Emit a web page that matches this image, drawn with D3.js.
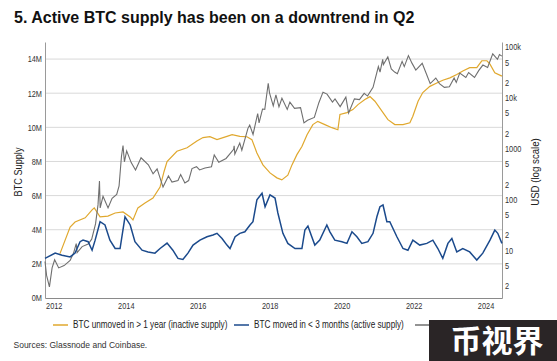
<!DOCTYPE html>
<html>
<head>
<meta charset="utf-8">
<script src="https://cdn.jsdelivr.net/npm/d3@7"></script>
<style>
  body { margin: 0; background: #fff; }
  svg { display: block; }
</style>
</head>
<body>
<svg id="chart" width="557" height="361"></svg>
<script>
// values
var inactiveSupply = [
  ["2012-03-04", 2.6], ["2012-06-15", 4.16], ["2012-08-04", 4.45], ["2012-11-15", 4.7],
  ["2013-01-24", 5.16], ["2013-02-15", 5.28], ["2013-04-15", 4.75], ["2013-07-04", 4.8],
  ["2013-09-15", 4.98], ["2013-12-04", 5.04], ["2014-02-15", 4.75], ["2014-03-15", 4.57],
  ["2014-05-04", 5.28], ["2014-07-15", 5.57], ["2014-10-04", 5.86], ["2014-12-15", 6.5],
  ["2015-01-24", 7.4], ["2015-02-24", 8.0], ["2015-06-04", 8.6], ["2015-09-15", 8.8],
  ["2015-12-24", 9.2], ["2016-02-24", 9.4], ["2016-05-04", 9.45], ["2016-07-15", 9.28],
  ["2016-10-24", 9.47], ["2016-12-15", 9.57], ["2017-03-04", 9.47], ["2017-05-15", 9.45],
  ["2017-07-04", 9.28], ["2017-08-24", 8.5], ["2017-10-24", 7.8], ["2018-01-04", 7.33],
  ["2018-03-15", 7.04], ["2018-05-04", 6.92], ["2018-07-04", 7.2], ["2018-08-15", 7.8],
  ["2018-10-04", 8.4], ["2018-11-24", 8.88], ["2019-01-15", 9.57], ["2019-03-15", 10.16],
  ["2019-05-04", 10.35], ["2019-07-15", 10.16], ["2019-09-24", 9.98], ["2019-11-24", 9.86],
  ["2019-12-15", 10.75], ["2020-02-24", 10.86], ["2020-04-24", 11.04], ["2020-06-15", 11.33],
  ["2020-08-24", 11.63], ["2020-10-15", 11.8], ["2020-12-04", 11.53], ["2021-02-15", 10.94],
  ["2021-04-15", 10.45], ["2021-06-24", 10.16], ["2021-09-15", 10.16], ["2021-11-24", 10.27],
  ["2021-12-24", 10.65], ["2022-02-15", 11.53], ["2022-04-04", 12.04], ["2022-06-15", 12.4],
  ["2022-08-24", 12.6], ["2022-10-24", 12.76], ["2023-01-04", 12.9], ["2023-03-15", 13.1],
  ["2023-05-15", 13.3], ["2023-07-24", 13.5], ["2023-10-04", 13.5], ["2023-11-24", 13.9],
  ["2024-01-15", 13.9], ["2024-02-15", 13.7], ["2024-04-04", 13.2], ["2024-06-15", 13.0]
];

var activeSupply = [
  ["2011-10-04", 2.32], ["2012-01-15", 2.63], ["2012-03-25", 2.51], ["2012-06-15", 2.41],
  ["2012-08-04", 2.63], ["2012-09-24", 3.3], ["2012-10-24", 3.39], ["2012-12-15", 3.3],
  ["2013-01-24", 2.8], ["2013-02-24", 3.39], ["2013-04-15", 4.47], ["2013-06-04", 4.28],
  ["2013-07-24", 3.39], ["2013-09-15", 2.9], ["2013-11-04", 2.9], ["2013-12-24", 4.76],
  ["2014-02-15", 4.28], ["2014-04-04", 3.3], ["2014-06-15", 2.8], ["2014-08-15", 2.7],
  ["2014-10-24", 2.63], ["2014-12-15", 2.9], ["2015-02-24", 3.22], ["2015-04-24", 2.8],
  ["2015-06-15", 2.32], ["2015-08-04", 2.26], ["2015-09-24", 2.63], ["2015-11-15", 3.1],
  ["2016-01-24", 3.39], ["2016-04-04", 3.59], ["2016-06-04", 3.69], ["2016-07-15", 3.79],
  ["2016-09-04", 3.49], ["2016-10-24", 3.1], ["2016-11-24", 2.9], ["2017-01-15", 3.59],
  ["2017-03-04", 3.79], ["2017-04-24", 3.88], ["2017-06-15", 4.28], ["2017-07-15", 4.47],
  ["2017-08-24", 5.75], ["2017-10-15", 6.14], ["2017-11-15", 5.35], ["2018-01-04", 6.04],
  ["2018-02-24", 5.86], ["2018-03-25", 4.98], ["2018-05-15", 3.79], ["2018-07-04", 3.2],
  ["2018-09-15", 2.9], ["2018-11-24", 2.9], ["2018-12-24", 3.98], ["2019-01-24", 4.22],
  ["2019-03-04", 3.59], ["2019-04-04", 3.1], ["2019-05-24", 3.39], ["2019-08-04", 4.28],
  ["2019-09-04", 3.88], ["2019-10-24", 3.39], ["2020-01-04", 3.3], ["2020-02-24", 3.2],
  ["2020-04-15", 3.88], ["2020-06-04", 3.59], ["2020-07-24", 3.2], ["2020-09-24", 3.3],
  ["2020-11-15", 3.79], ["2020-12-24", 4.76], ["2021-01-24", 5.35], ["2021-02-24", 5.45],
  ["2021-04-04", 4.47], ["2021-05-04", 4.47], ["2021-07-15", 3.59], ["2021-09-15", 2.9],
  ["2021-11-04", 2.8], ["2021-12-24", 3.39], ["2022-03-04", 3.1], ["2022-05-15", 3.2],
  ["2022-07-15", 3.39], ["2022-09-04", 2.9], ["2022-10-24", 2.32], ["2022-12-15", 3.2],
  ["2023-01-24", 3.49], ["2023-03-15", 2.7], ["2023-05-15", 2.9], ["2023-07-24", 2.7],
  ["2023-10-04", 2.22], ["2023-12-04", 2.63], ["2024-02-15", 3.39], ["2024-04-04", 3.98],
  ["2024-05-04", 3.79], ["2024-06-15", 3.2]
];

var btcPrice = [
  ["2011-10-04", 6], ["2011-10-20", 3.2], ["2011-11-18", 1.9], ["2011-12-15", 4.5],
  ["2012-01-10", 6.5], ["2012-02-20", 4.5], ["2012-04-15", 5.0], ["2012-06-15", 6.3],
  ["2012-07-20", 8.8], ["2012-08-16", 13.5], ["2012-08-25", 9.0], ["2012-10-15", 11.8],
  ["2012-12-15", 13.3], ["2013-01-20", 16.5], ["2013-02-28", 33], ["2013-03-25", 78],
  ["2013-04-09", 230], ["2013-04-16", 68], ["2013-05-15", 115], ["2013-07-05", 68],
  ["2013-08-15", 105], ["2013-10-01", 125], ["2013-10-25", 185], ["2013-11-18", 700],
  ["2013-12-04", 1150], ["2013-12-18", 550], ["2014-01-10", 900], ["2014-02-25", 530],
  ["2014-04-10", 380], ["2014-06-05", 660], ["2014-08-18", 480], ["2014-10-05", 320],
  ["2014-11-15", 400], ["2015-01-14", 175], ["2015-03-10", 290], ["2015-04-15", 220],
  ["2015-06-15", 235], ["2015-07-12", 310], ["2015-08-24", 210], ["2015-10-01", 235],
  ["2015-11-04", 405], ["2015-12-20", 440], ["2016-01-20", 380], ["2016-03-15", 415],
  ["2016-05-20", 440], ["2016-06-17", 750], ["2016-08-02", 540], ["2016-10-15", 640],
  ["2016-12-31", 970], ["2017-01-05", 1130], ["2017-01-12", 780], ["2017-03-03", 1280],
  ["2017-03-24", 930], ["2017-05-25", 2500], ["2017-06-12", 2900], ["2017-07-16", 1900],
  ["2017-09-01", 4900], ["2017-09-15", 3200], ["2017-10-20", 6000], ["2017-11-12", 5900],
  ["2017-12-17", 19300], ["2017-12-30", 12500], ["2018-02-06", 6900], ["2018-03-05", 11400],
  ["2018-04-05", 6600], ["2018-05-05", 9800], ["2018-06-28", 5900], ["2018-07-25", 8200],
  ["2018-09-10", 6200], ["2018-11-10", 6400], ["2018-12-15", 3200], ["2019-01-20", 3600],
  ["2019-03-30", 4100], ["2019-05-15", 8000], ["2019-06-26", 12900], ["2019-08-06", 11800],
  ["2019-09-30", 8200], ["2019-10-26", 9500], ["2019-12-17", 6700], ["2020-02-13", 10300],
  ["2020-03-12", 5000], ["2020-05-10", 9500], ["2020-06-30", 9200], ["2020-08-17", 12200],
  ["2020-09-20", 10800], ["2020-11-15", 16000], ["2021-01-08", 41000], ["2021-01-25", 32000],
  ["2021-02-21", 57000], ["2021-02-28", 45000], ["2021-04-14", 63500], ["2021-05-19", 37000],
  ["2021-06-22", 32000], ["2021-07-20", 29800], ["2021-09-06", 52000], ["2021-09-28", 41000],
  ["2021-11-09", 67500], ["2021-12-15", 48000], ["2022-01-23", 35000], ["2022-03-29", 47500],
  ["2022-05-12", 29000], ["2022-06-18", 19000], ["2022-08-14", 24400], ["2022-09-20", 19000],
  ["2022-11-09", 16000], ["2022-12-30", 16500], ["2023-02-16", 24500], ["2023-03-10", 20000],
  ["2023-04-14", 30500], ["2023-06-15", 25000], ["2023-07-13", 31400], ["2023-09-11", 25000],
  ["2023-10-25", 34500], ["2023-12-05", 44000], ["2024-01-22", 39500], ["2024-03-14", 73000],
  ["2024-05-01", 57000], ["2024-05-21", 71000], ["2024-06-15", 66000]
];

var supplyTicks = [0, 2, 4, 6, 8, 10, 12, 14];
var priceTicks = [2, 5, 10, 20, 50, 100, 200, 500, 1000, 2000, 5000, 10000, 20000, 50000, 100000];
var priceTickLabels = ["2", "5", "10", "2", "5", "100", "2", "5", "1000", "2", "5", "10k", "2", "5", "100k"];
// third entry (price) has its label hidden under the watermark in the original
var legendLabels = [
  "BTC unmoved in > 1 year (inactive supply)",
  "BTC moved in < 3 months (active supply)",
  ""
];

var font = "'Liberation Sans', Arial, sans-serif";
var squeeze = "scale(0.82,1)"; // the original uses a narrow face
var colGold = "#e0a82e", colBlue = "#1b4a8c", colGrey = "#6f6f6f";

var svg = d3.select("#chart");
var plotL = 45, plotR = 502, plotT = 42, plotB = 298;
var parse = d3.timeParse("%Y-%m-%d");

var x = d3.scaleTime()
  .domain([parse("2011-10-04"), parse("2024-06-16")])
  .range([plotL, plotR]);
var y = d3.scaleLinear().domain([0, 15]).range([plotB, plotT]);
var yP = d3.scaleLog().domain([1.15, 125000]).range([plotB, plotT]);

svg.append("text")
  .attr("x", 14).attr("y", 23)
  .attr("font-family", font).attr("font-weight", "bold")
  .attr("font-size", 16).attr("fill", "#111")
  .text("5. Active BTC supply has been on a downtrend in Q2");

// grid
svg.append("g").selectAll("line")
  .data(supplyTicks.filter(function(d) { return d > 0; }))
  .join("line")
  .attr("x1", plotL).attr("x2", plotR)
  .attr("y1", function(d) { return y(d); }).attr("y2", function(d) { return y(d); })
  .attr("stroke", "#d9d9d9").attr("stroke-width", 1);

function styleTicks(g, shift) {
  g.selectAll("text")
    .attr("font-family", font).attr("font-size", 9).attr("fill", "#333")
    .attr("transform", "translate(" + shift + ",0) " + squeeze + " translate(" + (-shift) + ",0)");
}

// left axis
var gL = svg.append("g").attr("transform", "translate(" + plotL + ",0)")
  .call(d3.axisLeft(y).tickValues(supplyTicks).tickSize(0).tickPadding(3)
    .tickFormat(function(d) { return d + "M"; }));
gL.select(".domain").attr("stroke", "#9a9a9a");
styleTicks(gL, -3);

// right axis
var gR = svg.append("g").attr("transform", "translate(" + plotR + ",0)")
  .call(d3.axisRight(yP).tickValues(priceTicks).tickSize(0).tickPadding(3)
    .tickFormat(function(d, i) { return priceTickLabels[i]; }));
gR.select(".domain").attr("stroke", "#9a9a9a");
styleTicks(gR, 3);

// bottom axis
var gB = svg.append("g").attr("transform", "translate(0," + plotB + ")")
  .call(d3.axisBottom(x).ticks(d3.timeYear.every(2)).tickSize(0).tickPadding(5)
    .tickFormat(d3.timeFormat("%Y")));
gB.select(".domain").attr("stroke", "#8a8a8a");
styleTicks(gB, 0);

svg.append("text")
  .attr("transform", "translate(22,172) rotate(-90) " + squeeze)
  .attr("text-anchor", "middle")
  .attr("font-family", font).attr("font-size", 11.2).attr("fill", "#222")
  .text("BTC Supply");
svg.append("text")
  .attr("transform", "translate(539,172) rotate(-90) " + squeeze)
  .attr("text-anchor", "middle")
  .attr("font-family", font).attr("font-size", 11.8).attr("fill", "#222")
  .text("USD (log scale)");

var lineS = d3.line()
  .x(function(d) { return x(parse(d[0])); })
  .y(function(d) { return y(d[1]); });
var lineP = d3.line()
  .x(function(d) { return x(parse(d[0])); })
  .y(function(d) { return yP(d[1]); });

svg.append("path").datum(inactiveSupply).attr("d", lineS)
  .attr("fill", "none").attr("stroke", colGold).attr("stroke-width", 1.2);
svg.append("path").datum(btcPrice).attr("d", lineP)
  .attr("fill", "none").attr("stroke", colGrey).attr("stroke-width", 1.1);
svg.append("path").datum(activeSupply).attr("d", lineS)
  .attr("fill", "none").attr("stroke", colBlue).attr("stroke-width", 1.5);

// legend
var legX = [53, 234, 415];
var legCol = [colGold, colBlue, colGrey];
var leg = svg.append("g").selectAll("g").data(legendLabels).join("g")
  .attr("transform", function(d, i) { return "translate(" + legX[i] + ",325)"; });
leg.append("line").attr("x1", 0).attr("x2", 15)
  .attr("stroke", function(d, i) { return legCol[i]; }).attr("stroke-width", 1.5);
leg.filter(function(d) { return d !== ""; })
  .append("text").attr("transform", "translate(20,3.3) " + squeeze)
  .attr("font-family", font).attr("font-size", 10).attr("fill", "#222")
  .text(function(d) { return d; });

svg.append("text")
  .attr("x", 13.5).attr("y", 348)
  .attr("font-family", font).attr("font-size", 8.5).attr("fill", "#333")
  .text("Sources: Glassnode and Coinbase.");

// watermark
svg.append("rect").attr("x", 429).attr("y", 320).attr("width", 128).attr("height", 41)
  .attr("fill", "#2a2526");
svg.append("text")
  .attr("x", 497).attr("y", 352).attr("text-anchor", "middle")
  .attr("font-family", "'Noto Sans CJK SC', sans-serif").attr("font-weight", "bold")
  .attr("font-size", 31).attr("fill", "#fff")
  .text("币视界");
</script>
</body>
</html>
